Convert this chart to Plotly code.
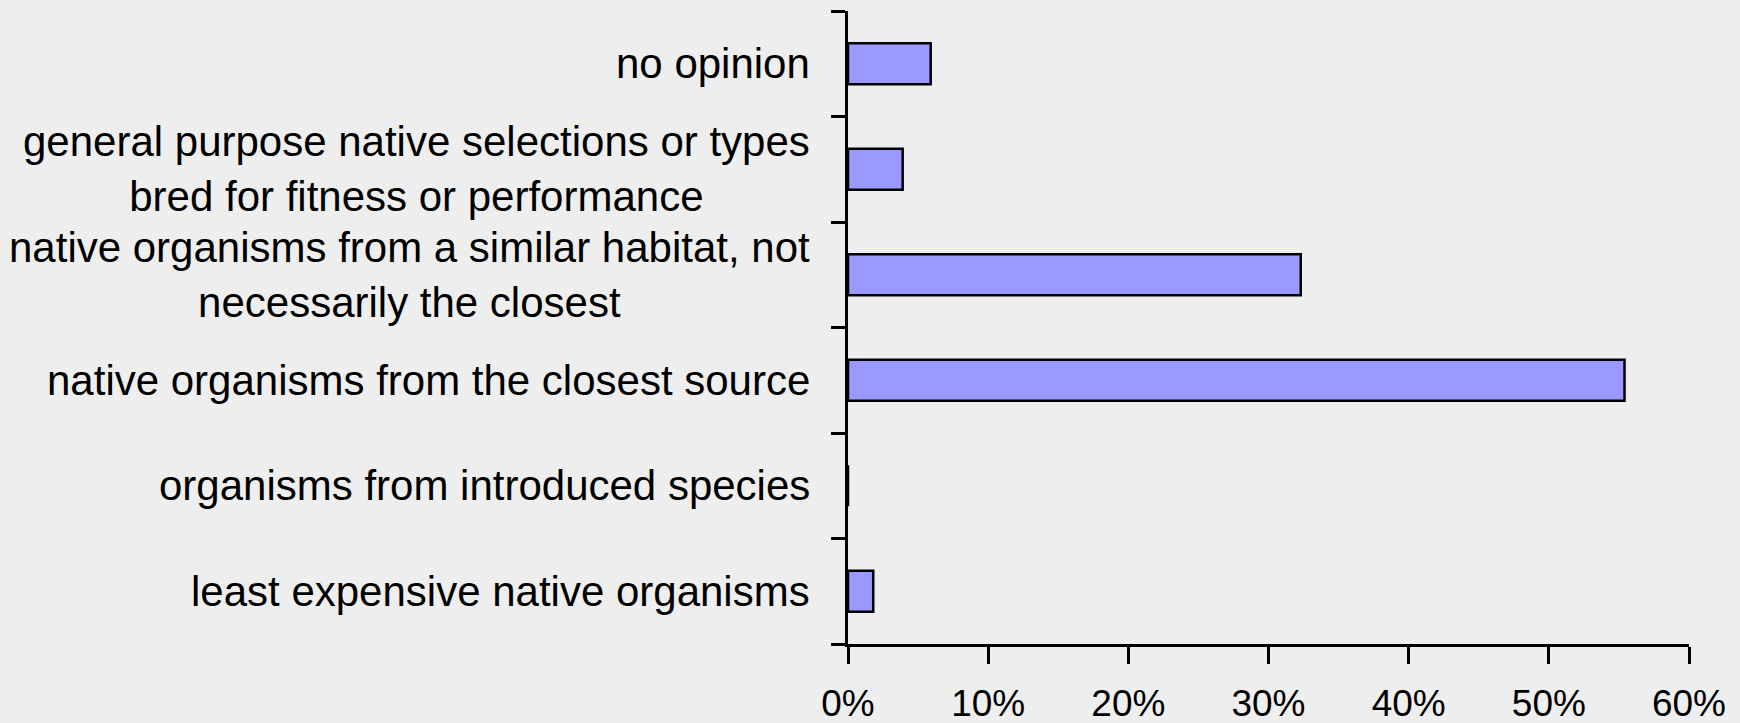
import plotly.graph_objects as go

categories = [
    "least expensive native organisms",
    "organisms from introduced species",
    "native organisms from the closest source",
    "native organisms from a similar habitat, not<br>necessarily the closest",
    "general purpose native selections or types<br>bred for fitness or performance",
    "no opinion",
]
values = [1.8, 0.0, 55.4, 32.3, 3.9, 5.9]
x_ticks = [0, 10, 20, 30, 40, 50, 60]
x_tick_labels = ["0%", "10%", "20%", "30%", "40%", "50%", "60%"]

BG = "#EEEEEE"
FONT = "Liberation Sans, Arial, sans-serif"

fig = go.Figure()
fig.add_trace(go.Bar(
    y=list(range(len(categories))),
    x=values,
    orientation="h",
    marker=dict(color="#9999FF", line=dict(color="#000000", width=2.5)),
    hoverinfo="skip",
))

for i, c in enumerate(categories):
    fig.add_annotation(
        x=0, xref="paper", xanchor="right", xshift=-36,
        y=i, yref="y", yanchor="middle",
        text=c, showarrow=False, align="center",
        font=dict(family=FONT, size=42, color="#000000"),
    )

fig.update_layout(
    width=1740, height=723,
    paper_bgcolor=BG, plot_bgcolor=BG,
    margin=dict(l=848, r=51, t=11, b=79, autoexpand=False),
    bargap=0.61,
    showlegend=False,
    font=dict(family=FONT, color="#000000"),
)
fig.update_xaxes(
    range=[0, 60],
    tickvals=x_ticks, ticktext=x_tick_labels,
    showgrid=False, zeroline=False,
    showline=True, linecolor="#000000", linewidth=2.5,
    ticks="outside", ticklen=17, tickwidth=2.5, tickcolor="#000000",
    ticklabelstandoff=8, automargin=False,
    tickfont=dict(family=FONT, size=37, color="#000000"),
)
fig.update_yaxes(
    range=[-0.5, 5.5],
    tickvals=[-0.5, 0.5, 1.5, 2.5, 3.5, 4.5, 5.5],
    showticklabels=False, automargin=False,
    showgrid=False, zeroline=False,
    showline=True, linecolor="#000000", linewidth=2.5,
    ticks="outside", ticklen=14, tickwidth=2.5, tickcolor="#000000",
)

fig.write_html(
    "out.html",
    config={"displayModeBar": False},
    post_script="document.body.style.margin='0';document.body.style.overflow='hidden';document.body.style.background='#EEEEEE';",
)
